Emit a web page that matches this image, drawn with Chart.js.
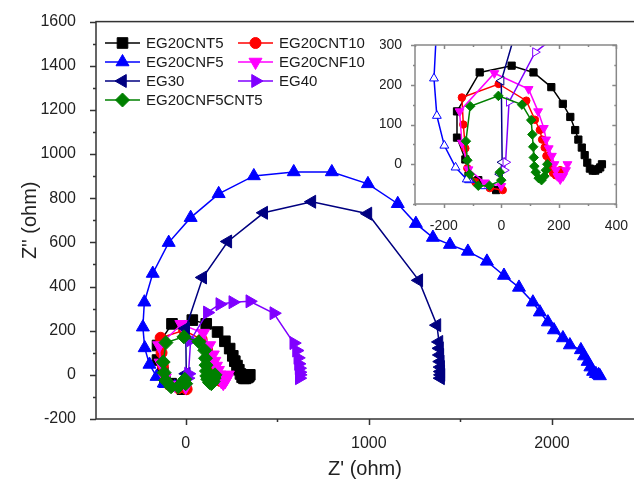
<!DOCTYPE html>
<html>
<head>
<meta charset="utf-8">
<script src="https://cdn.jsdelivr.net/npm/chart.js@4.4.1/dist/chart.umd.min.js"></script>
<style>
  html, body { margin: 0; padding: 0; background: #fff; }
  #wrap { position: relative; width: 634px; height: 483px; overflow: hidden; }
  #mainChart { position: absolute; left: 0; top: 0; }
  #insetChart { position: absolute; left: 380px; top: 30px; }
</style>
</head>
<body>
<div id="wrap">
  <canvas id="mainChart" width="640" height="483"></canvas>
  <canvas id="insetChart" width="254" height="200"></canvas>
</div>
<script>
// series names, in legend order
const seriesNames = ["EG20CNT5", "EG20CNT10", "EG20CNF5", "EG20CNF10", "EG30", "EG40", "EG20CNF5CNT5"];

// Z' / Z'' values (ohm)
const cnt5X = [-18, -80, -114, -125, -154, -154, -75, 36, 112, 174, 214, 240, 257, 268, 280, 290, 299, 308, 318, 327, 337, 344, 350];
const cnt5Y = [-65, -40, -29, 12, 67, 133, 231, 248, 231, 194, 152, 119, 86, 62, 42, 23, 4, -11, -16, -16, -12, -8, 0];

const cnt10X = [5, -40, -90, -118, -125, -132, -137, -9, 87, 117, 134, 142, 151, 157, 165, 172, 180, 190, 200, 205];
const cnt10Y = [-65, -60, -45, -10, 40, 100, 168, 202, 160, 112, 86, 62, 42, 21, 5, -10, -22, -28, -25, -15];

const cnf5X = [-60, -112, -120, -159, -198, -224, -234, -226, -180, -93, 27, 180, 372, 590, 798, 995, 1158, 1257, 1350, 1443, 1541, 1645, 1738, 1820, 1896, 1934, 1978, 2011, 2060, 2098, 2158, 2175, 2195, 2210, 2225, 2240, 2255, 2262];
const cnf5Y = [-55, -40, -38, -8, 47, 122, 216, 329, 459, 599, 712, 820, 901, 919, 919, 865, 775, 685, 622, 590, 559, 514, 450, 396, 329, 284, 239, 203, 167, 135, 113, 85, 60, 35, 15, 5, 0, -5];

const cnf10X = [0, -57, -114, -137, -145, -24, 95, 128, 148, 156, 165, 176, 185, 190, 195, 205, 215, 225, 230];
const cnf10Y = [-55, -46, -13, 54, 133, 229, 189, 133, 91, 62, 40, 21, 0, -15, -30, -38, -30, -15, 0];

const eg30X = [-5, 3, 0, 93, 230, 426, 689, 995, 1273, 1372, 1383, 1386, 1388, 1390, 1392, 1393, 1394, 1392];
const eg30Y = [-25, 5, 210, 441, 604, 734, 784, 730, 428, 225, 149, 120, 90, 60, 35, 15, 0, -15];

const eg40X = [10, 15, 27, 118, 186, 257, 350, 481, 590, 605, 612, 616, 619, 621, 622, 620];
const eg40Y = [-15, 5, 157, 282, 320, 329, 333, 279, 144, 110, 77, 50, 30, 12, 0, -15];

const cnf5cnt5X = [-5, 0, -41, -80, -110, -118, -123, -108, -10, 72, 104, 108, 111, 113, 115, 120, 130, 140, 150, 155, 160];
const cnf5cnt5Y = [-20, -40, -54, -54, -25, 10, 58, 146, 172, 150, 111, 75, 44, 17, -5, -20, -35, -40, -30, -15, 0];

// tick values
const mainXLabels = [0, 1000, 2000];
const mainXMinor = [-500, 500, 1500, 2500];
const mainYLabels = [-200, 0, 200, 400, 600, 800, 1000, 1200, 1400, 1600];
const mainYMinor = [-100, 100, 300, 500, 700, 900, 1100, 1300, 1500];
const insetXLabels = [-200, 0, 200, 400];
const insetXMinor = [-300, -100, 100, 300];
const insetYLabels = [0, 100, 200, 300];
const insetYMinor = [-100, -50, 50, 150, 250];

const xValues = [cnt5X, cnt10X, cnf5X, cnf10X, eg30X, eg40X, cnf5cnt5X];
const yValues = [cnt5Y, cnt10Y, cnf5Y, cnf10Y, eg30Y, eg40Y, cnf5cnt5Y];

const colors = ["#000000", "#ff0000", "#0000ff", "#ff00ff", "#000080", "#8000ff", "#008000"];
const shapes = ["rect", "circle", "triangle", "triangle", "triangle", "triangle", "rectRot"];
const rotations = [0, 0, 0, 180, 270, 90, 0];
const sizes = [7.5, 5.5, 7.5, 7.5, 7.5, 7.5, 7];
const hollowInset = [false, false, true, false, true, true, false];

const FONT = "'Liberation Sans', Arial, sans-serif";

function makeDatasets(scale, inset) {
    return seriesNames.map((name, i) => ({
        label: name,
        data: xValues[i].map((x, k) => ({ x: x, y: yValues[i][k] })),
        borderColor: colors[i],
        backgroundColor: colors[i],
        pointBackgroundColor: inset && hollowInset[i] ? "#ffffff" : colors[i],
        pointBorderColor: colors[i],
        pointBorderWidth: 1,
        pointStyle: shapes[i],
        pointRotation: rotations[i],
        pointRadius: sizes[i] * scale,
        borderWidth: 1.5,
        showLine: true,
        tension: 0,
        order: seriesNames.length - i
    }));
}

// frame + tick marks drawn from the scales
const frameTicks = {
    id: "frameTicks",
    afterDraw(chart, args, o) {
        const { ctx, chartArea: a, scales } = chart;
        ctx.save();
        ctx.strokeStyle = o.color;
        ctx.lineWidth = o.lineWidth;
        ctx.strokeRect(a.left, a.top, a.right - a.left, a.bottom - a.top);
        ctx.beginPath();
        const marks = [[o.xMajor, o.major], [o.xMinor, o.minor]];
        marks.forEach(([vals, len]) => vals.forEach(v => {
            if (v < scales.x.min || v > scales.x.max) return;
            const p = Math.round(scales.x.getPixelForValue(v)) + 0.5;
            ctx.moveTo(p, a.bottom); ctx.lineTo(p, a.bottom + len);
            if (o.mirror) { ctx.moveTo(p, a.top); ctx.lineTo(p, a.top + len); }
        }));
        [[o.yMajor, o.major], [o.yMinor, o.minor]].forEach(([vals, len]) => vals.forEach(v => {
            if (v < scales.y.min || v > scales.y.max) return;
            const p = Math.round(scales.y.getPixelForValue(v)) + 0.5;
            ctx.moveTo(a.left, p); ctx.lineTo(a.left - len, p);
            if (o.mirror) { ctx.moveTo(a.right, p); ctx.lineTo(a.right - len, p); }
        }));
        ctx.stroke();
        ctx.restore();
    }
};

// two-column legend inside the plot
const legendBox = {
    id: "legendBox",
    afterDraw(chart, args, o) {
        const ctx = chart.ctx;
        ctx.save();
        ctx.font = o.font;
        ctx.textBaseline = "middle";
        chart.data.datasets.forEach((ds, i) => {
            const x0 = o.colX[i % 2];
            const y0 = o.rowY[Math.floor(i / 2)];
            ctx.strokeStyle = ds.borderColor;
            ctx.lineWidth = ds.borderWidth;
            ctx.beginPath();
            ctx.moveTo(x0, y0);
            ctx.lineTo(x0 + o.lineLen, y0);
            ctx.stroke();
            ctx.fillStyle = ds.pointBackgroundColor;
            ctx.lineWidth = 1;
            Chart.helpers.drawPoint(ctx, {
                pointStyle: ds.pointStyle,
                rotation: ds.pointRotation,
                radius: ds.pointRadius,
                borderWidth: 1
            }, x0 + o.lineLen / 2, y0);
            ctx.fillStyle = "#1a1a1a";
            ctx.fillText(ds.label, x0 + o.lineLen + o.gap, y0 + 1);
        });
        ctx.restore();
    }
};

function fixedTicks(values) {
    return scale => { scale.ticks = values.map(v => ({ value: v })); };
}

new Chart(document.getElementById("mainChart"), {
    type: "scatter",
    data: { datasets: makeDatasets(1, false) },
    options: {
        responsive: false,
        animation: false,
        layout: { autoPadding: false, padding: { top: 20, right: 2, left: 0, bottom: 0 } },
        plugins: {
            legend: { display: false },
            tooltip: { enabled: false },
            frameTicks: {
                color: "#333333", lineWidth: 1.5, major: 6, minor: 3, mirror: false,
                xMajor: mainXLabels, xMinor: mainXMinor, yMajor: mainYLabels, yMinor: mainYMinor
            },
            legendBox: {
                font: "15px " + FONT, colX: [105, 238], rowY: [43, 62, 81, 100], lineLen: 35, gap: 6
            }
        },
        scales: {
            x: {
                type: "linear",
                min: -490,
                max: 2470,
                afterBuildTicks: fixedTicks(mainXLabels),
                afterFit: s => { s.height = 64; },
                grid: { display: false },
                border: { display: false },
                ticks: { color: "#222", padding: 7, font: { family: FONT, size: 16 }, callback: v => String(v) },
                title: { display: false }
            },
            y: {
                type: "linear",
                min: -200,
                max: 1600,
                afterBuildTicks: fixedTicks(mainYLabels),
                afterFit: s => { s.width = 96; },
                grid: { display: false },
                border: { display: false },
                ticks: { color: "#222", padding: 12, font: { family: FONT, size: 16 }, callback: v => String(v) },
                title: { display: true, text: "Z'' (ohm)", color: "#222", padding: { top: 18, bottom: 0 }, font: { family: FONT, size: 20 } }
            }
        }
    },
    plugins: [frameTicks, legendBox, {
        // x title centred on the visible part of the plot (canvas is wider than the window)
        id: "xTitle",
        afterDraw(chart) {
            const ctx = chart.ctx;
            ctx.save();
            ctx.font = "20px " + FONT;
            ctx.fillStyle = "#222";
            ctx.textAlign = "center";
            ctx.textBaseline = "middle";
            ctx.fillText("Z' (ohm)", (chart.chartArea.left + 634) / 2, 469);
            ctx.restore();
        }
    }]
});

new Chart(document.getElementById("insetChart"), {
    type: "scatter",
    data: { datasets: makeDatasets(0.68, true) },
    options: {
        responsive: false,
        animation: false,
        layout: { autoPadding: false, padding: { top: 15, right: 16, left: 0, bottom: 0 } },
        plugins: {
            legend: { display: false },
            tooltip: { enabled: false },
            frameTicks: {
                color: "#888888", lineWidth: 1.5, major: 4, minor: 2, mirror: true,
                xMajor: insetXLabels, xMinor: insetXMinor, yMajor: insetYLabels, yMinor: insetYMinor
            }
        },
        scales: {
            x: {
                type: "linear",
                min: -300,
                max: 400,
                afterBuildTicks: fixedTicks(insetXLabels),
                afterFit: s => { s.height = 26; },
                grid: { display: false },
                border: { display: false },
                ticks: { color: "#222", padding: 6, font: { family: FONT, size: 14 }, callback: v => String(v) }
            },
            y: {
                type: "linear",
                min: -100,
                max: 300,
                afterBuildTicks: fixedTicks(insetYLabels),
                afterFit: s => { s.width = 35; },
                grid: { display: false },
                border: { display: false },
                ticks: { color: "#222", padding: 5, font: { family: FONT, size: 14 }, callback: v => String(v) }
            }
        }
    },
    plugins: [frameTicks]
});
</script>
</body>
</html>
